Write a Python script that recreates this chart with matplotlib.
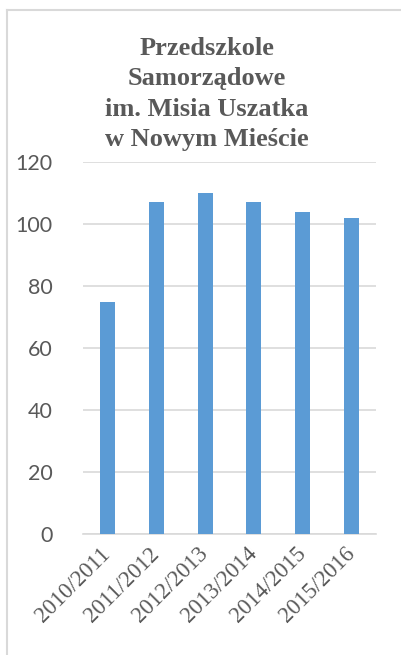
import matplotlib.pyplot as plt
from matplotlib.lines import Line2D

lata = ["2010/2011", "2011/2012", "2012/2013", "2013/2014", "2014/2015", "2015/2016"]
liczba_dzieci = [75, 107, 110, 107, 104, 102]
y_ticks = [0, 20, 40, 60, 80, 100, 120]

szary = "#595959"

fig = plt.figure(figsize=(4.01, 6.55), dpi=100)
W, H = 401, 655

# ramka wykresu (tylko gora i lewa widoczne)
fig.add_artist(Line2D([7 / W, 7 / W], [0, 1 - 10 / H], color="#d9d9d9", lw=1.5))
fig.add_artist(Line2D([7 / W, 1], [1 - 10 / H, 1 - 10 / H], color="#d9d9d9", lw=1.5))

ax = fig.add_axes([83 / W, 1 - 534 / H, (376 - 83) / W, (534 - 162) / H])
ax.bar(range(len(lata)), liczba_dzieci, width=0.31, color="#5b9bd5", zorder=3)

ax.set_xlim(-0.5, len(lata) - 0.5)
ax.set_ylim(0, 120)
ax.set_yticks(y_ticks)
ax.set_yticklabels([str(v) for v in y_ticks], fontfamily="Lato", fontsize=15.5, color=szary)
ax.set_xticks(range(len(lata)))
ax.set_xticklabels(lata, rotation=45, ha="right", va="center", rotation_mode="anchor",
                   fontfamily="Liberation Serif", fontsize=16.5, color=szary)
ax.tick_params(axis="both", length=0)
ax.tick_params(axis="y", pad=22)
ax.tick_params(axis="x", pad=12)
ax.grid(axis="y", color="#d9d9d9", lw=1.2, zorder=0)
for s in ["top", "right", "left"]:
    ax.spines[s].set_visible(False)
ax.spines["bottom"].set_color("#d9d9d9")
ax.spines["bottom"].set_linewidth(1.2)

fig.text(207 / W, 1 - 94 / H, "Przedszkole\nSamorządowe\nim. Misia Uszatka\nw Nowym Mieście",
         ha="center", va="center", fontfamily="Liberation Serif", fontweight="bold",
         fontsize=19, color=szary, linespacing=1.42)

fig.savefig("out.png", dpi=100)
